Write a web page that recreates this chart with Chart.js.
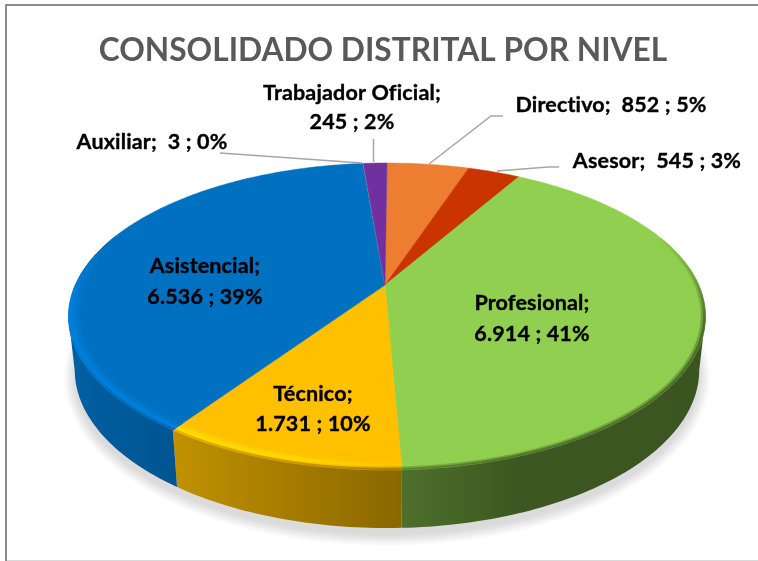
<!DOCTYPE html>
<html><head><meta charset="utf-8">
<style>html,body{margin:0;padding:0;background:#fff}#w{width:758px;height:561px;position:relative}</style>
<script src="https://cdn.jsdelivr.net/npm/chart.js@4/dist/chart.umd.js"></script>
</head><body><div id="w"><canvas id="c" width="758" height="561"></canvas></div>
<script>
const categories = ['Directivo','Asesor','Profesional','Técnico','Asistencial','Auxiliar','Trabajador Oficial'];
const seriesValues = [852,545,6914,1731,6536,3,245];
const valueLabels = ['852','545','6.914','1.731','6.536','3','245'];
const percentLabels = ['5%','3%','41%','10%','39%','0%','2%'];
const sliceColors = ['#ED7D31','#C93400','#90CF4F','#FFC000','#0070C0','#A5A5A5','#7030A0'];
const chartTitle = 'CONSOLIDADO DISTRITAL POR NIVEL';

/* drawing geometry (perspective view of the pie) */
const AX=385, K=0.205, RIM_DX=2;
const TOP={ay:285,   B:147,   R:311.7};
const BOT={ay:337.6, B:151.4, R:305.6};
const WALL_STOPS=[[60,.86],[180,.75],[400,.54],[520,.42],[710,.41]];
const hex=c=>[1,3,5].map(i=>parseInt(c.substr(i,2),16));
const rgb=a=>`rgb(${a.map(x=>Math.max(0,Math.min(255,Math.round(x)))).join(',')})`;
const mix=(a,b,t)=>a.map((x,i)=>x+(b[i]-x)*t);
function proj(d,th,r=1){const u=Math.cos(th),v=Math.sin(th),w=1/(1-K*r*v);
  return [AX+r*RIM_DX+d.R*r*u*w, d.ay+d.B*r*v*w];}
function wallFactor(x){const s=WALL_STOPS;
  for(let i=1;i<s.length;i++) if(x<=s[i][0]){const t=Math.max(0,(x-s[i-1][0])/(s[i][0]-s[i-1][0]));return s[i-1][1]+(s[i][1]-s[i-1][1])*t;}
  return .41;}
const STEP=Math.PI/180;
function angles(a0,a1,step){const n=Math.max(1,Math.ceil((a1-a0)/step)),o=[];for(let i=0;i<=n;i++)o.push(a0+(a1-a0)*i/n);return o;}
function quad(ctx,p,col){ctx.beginPath();ctx.moveTo(...p[0]);for(let i=1;i<4;i++)ctx.lineTo(...p[i]);ctx.closePath();
  ctx.fillStyle=col;ctx.strokeStyle=col;ctx.lineWidth=.6;ctx.fill();ctx.stroke();}

/* each slice is painted by the library's arc element from its own angles */
const ArcEl = Chart.ArcElement || Chart.registry.getElement('arc');
ArcEl.prototype.draw=function(ctx){
  const base=hex(this.options.backgroundColor), a0=this.startAngle,a1=this.endAngle;
  ctx.save();
  ctx.beginPath();ctx.moveTo(AX,TOP.ay);
  angles(a0,a1,STEP).forEach(t=>ctx.lineTo(...proj(TOP,t)));
  ctx.closePath();ctx.fillStyle=rgb(base);ctx.strokeStyle=rgb(base);ctx.lineWidth=.5;ctx.fill();ctx.stroke();
  /* bevelled rim */
  const as=angles(a0,a1,STEP*1.5), RS=6, RIN=.96;
  for(let i=0;i<as.length-1;i++){
    const m=(as[i]+as[i+1])/2, v=Math.sin(m), vis=Math.max(0,Math.min(1,(v+.35)/.6));
    if(vis<=0) continue;
    const px=proj(TOP,m)[0], wall=base.map(c=>c*wallFactor(px));
    const left=Math.max(0,Math.min(1,(420-px)/120));
    const hi=mix(base,base.map(c=>c*1.17),left);
    const th=.6+.32*Math.max(0,Math.min(1,-Math.cos(m)));
    for(let j=0;j<RS;j++){
      const t=(j+.5)/RS, r0=RIN+(1-RIN)*j/RS, r1=RIN+(1-RIN)*(j+1)/RS;
      let c= t<th ? mix(base,hi,t/th) : mix(hi,wall,(t-th)/(1-th));
      c=mix(base,c,vis);
      quad(ctx,[proj(TOP,as[i],r0),proj(TOP,as[i+1],r0),proj(TOP,as[i+1],r1),proj(TOP,as[i],r1)],rgb(c));
    }
  }
  ctx.restore();
};

const fmtLines=[
  i=>[`${categories[i]};  ${valueLabels[i]} ; ${percentLabels[i]}`],
  i=>[`${categories[i]};`,`${valueLabels[i]} ; ${percentLabels[i]}`]
];
const labelLayout=[
  {x:611,y:[105],two:0},{x:657,y:[161],two:0},{x:532,y:[303,334],two:1},{x:313,y:[394,424],two:1},
  {x:205,y:[266,297],two:1},{x:152,y:[142],two:0},{x:352,y:[93,122],two:1}];
const leaders=[[[429,164],[491,116],[503,116]],[[497,171],[548,167],[559,167]],null,null,null,
  [[220,153],[362,163]],[[373.5,139],[373.5,162]]];

const pie3d={id:'pie3d',
  beforeDraw(ch){const x=ch.ctx;x.save();x.fillStyle='#fff';x.fillRect(0,0,758,561);
    x.fillStyle='#8C8C8C';x.fillRect(5,4,2,557);x.fillRect(5,4,753,2);
    x.fillStyle='#D9D9D9';x.fillRect(7,560,751,1);x.restore();},
  beforeDatasetsDraw(ch){const ctx=ch.ctx;ctx.save();
    /* soft floor shadow, built from growing translucent rings */
    const CX=387, CY=370, DY=7;
    for(let e=11;e>=0;e--){
      ctx.beginPath();
      angles(0,Math.PI*2,STEP*2).forEach((t,i)=>{const p=proj(BOT,t);
        const q=[CX+(p[0]-CX)*(1+e/313), CY+(p[1]-CY)*(1+e/158)+DY];
        i?ctx.lineTo(...q):ctx.moveTo(...q);});
      ctx.closePath();ctx.fillStyle='rgba(0,0,0,.013)';ctx.fill();
    }
    /* side wall, one shaded band per slice, from silhouette edge to silhouette edge */
    ch.getDatasetMeta(0).data.forEach(a=>{
      const vis=angles(a.startAngle,a.endAngle,STEP).filter(t=>Math.sin(t)>=K);
      if(vis.length<2) return;
      const base=hex(a.options.backgroundColor);
      const g=ctx.createLinearGradient(60,0,710,0);
      WALL_STOPS.forEach(s=>g.addColorStop((s[0]-60)/650,rgb(base.map(c=>c*s[1]))));
      ctx.beginPath();
      vis.forEach((t,i)=>{const p=proj(TOP,t);i?ctx.lineTo(...p):ctx.moveTo(...p);});
      vis.slice().reverse().forEach(t=>ctx.lineTo(...proj(BOT,t)));
      ctx.closePath();ctx.fillStyle=g;ctx.fill();
    });
    ctx.restore();},
  afterDatasetsDraw(ch){const ctx=ch.ctx;ctx.save();
    ctx.strokeStyle='#A6A6A6';ctx.lineWidth=1.5;
    leaders.forEach(l=>{if(!l)return;ctx.beginPath();l.forEach((p,i)=>i?ctx.lineTo(...p):ctx.moveTo(...p));ctx.stroke();});
    ctx.font='bold 21.5px Lato';ctx.letterSpacing='0.15px';ctx.fillStyle='#000';ctx.strokeStyle='#000';ctx.lineWidth=.35;
    ctx.textAlign='center';ctx.textBaseline='middle';
    labelLayout.forEach((l,i)=>{fmtLines[l.two](i).forEach((s,j)=>{ctx.fillText(s,l.x,l.y[j]);ctx.strokeText(s,l.x,l.y[j]);});});
    ctx.restore();}
};

new Chart(document.getElementById('c'),{
  type:'pie',
  data:{labels:categories,datasets:[{data:seriesValues,backgroundColor:sliceColors,borderWidth:0}]},
  plugins:[pie3d],
  options:{responsive:false,animation:false,
    layout:{padding:{left:8,right:0,top:32,bottom:0}},
    plugins:{legend:{display:false},tooltip:{enabled:false},
      title:{display:true,text:chartTitle,color:'#595959',font:{family:'Lato',size:31.7,weight:'bold'},padding:{top:0,bottom:10}}}}
});
</script></body></html>
